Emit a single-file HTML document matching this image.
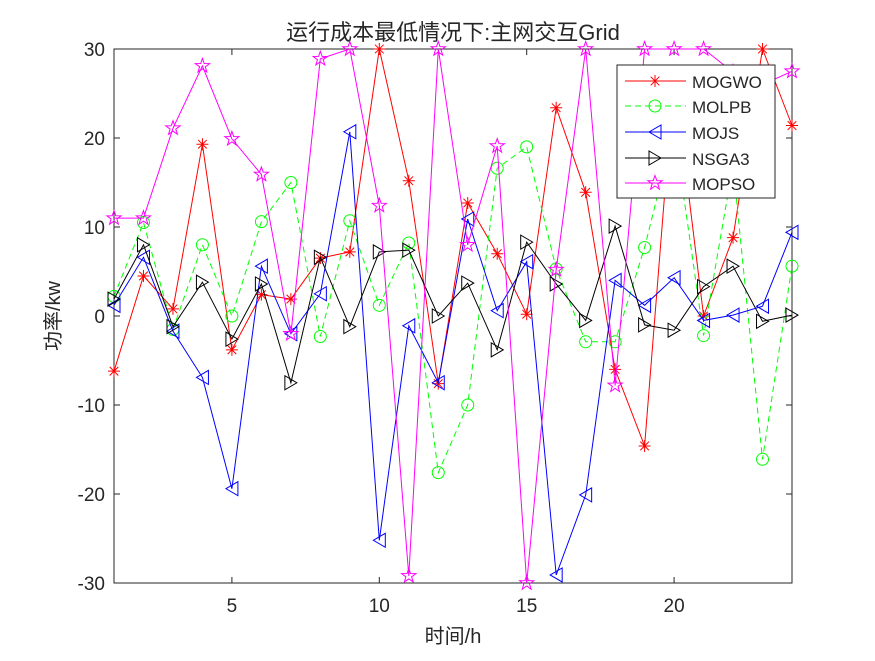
<!DOCTYPE html>
<html><head><meta charset="utf-8"><style>
body{margin:0;background:#fff;}
svg text{font-family:"Liberation Sans","Noto Sans CJK SC",sans-serif;fill:#262626;}
</style></head><body>
<svg id="s" width="875" height="656" viewBox="0 0 875 656" xmlns="http://www.w3.org/2000/svg">
<rect width="875" height="656" fill="#fff"/>
<rect x="114" y="49" width="678" height="534" fill="#fff" stroke="#262626" stroke-width="1"/>
<g stroke="#262626" stroke-width="1" id="ticks"></g>
<g font-size="19" text-anchor="middle">
<text x="231.9" y="612">5</text><text x="379.3" y="612">10</text><text x="526.7" y="612">15</text><text x="674.1" y="612">20</text>
</g>
<g font-size="19" text-anchor="end">
<text x="105" y="56">30</text><text x="105" y="145">20</text><text x="105" y="234">10</text><text x="105" y="323">0</text>
<text x="105" y="412">-10</text><text x="105" y="501">-20</text><text x="105" y="590">-30</text>
</g>
<text x="453" y="40" font-size="22" text-anchor="middle">运行成本最低情况下:主网交互Grid</text>
<text x="453" y="643" font-size="20" text-anchor="middle">时间/h</text>
<text transform="translate(60,316) rotate(-90)" font-size="20" text-anchor="middle">功率/kw</text>
<g id="series"></g>
<g id="legend">
<rect x="617" y="65" width="158" height="133" fill="#fff" stroke="#262626" stroke-width="1"/>
<g font-size="17">
<text x="692" y="88" fill="#000">MOGWO</text>
<text x="692" y="113" fill="#000">MOLPB</text>
<text x="692" y="139" fill="#000">MOJS</text>
<text x="692" y="165" fill="#000">NSGA3</text>
<text x="692" y="190" fill="#000">MOPSO</text>
</g>
</g>
</svg>
<script>
var X=function(i){return 114+(i-1)*678/23;},Y=function(v){return 316-v*8.9;};
var S=[
{c:"#ff0000",m:"ast",d:[-6.2,4.5,0.8,19.3,-3.8,2.4,1.9,6.5,7.2,30,15.2,-7.6,12.7,7,0.2,23.4,13.9,-6,-14.6,27,0,8.8,30,21.4]},
{c:"#00ff00",m:"o",dash:"6,4",d:[2.2,10.5,-1.5,8,0,10.6,15,-2.3,10.7,1.2,8.2,-17.6,-10,16.6,19,5.3,-2.9,-2.9,7.7,21,-2.2,17,-16.1,5.6]},
{c:"#0000ff",m:"<",d:[1.2,6.6,-1.7,-6.9,-19.4,5.6,-2,2.5,20.7,-25.2,-1.1,-7.5,10.9,0.6,6.1,-29.1,-20.1,4,1.2,4.3,-0.5,0.1,1.1,9.4]},
{c:"#000000",m:">",d:[1.9,8,-1.2,3.8,-2.6,3.6,-7.5,6.6,-1.2,7.2,7.4,0,3.7,-3.8,8.3,3.6,-0.5,10.1,-1,-1.6,3.3,5.6,-0.6,0.1]},
{c:"#ff00ff",m:"p",d:[11,11,21.1,28.1,19.9,15.9,-2,28.9,30,12.4,-29.2,30,8,19.1,-30,5.2,30,-7.8,30,30,30,27.4,26,27.5]}];
function mk(t,x,y,c){
 if(t=="ast"){var r=6,q=4.3;return '<path d="M'+(x-r)+' '+y+'H'+(x+r)+'M'+x+' '+(y-r)+'V'+(y+r)+'M'+(x-q)+' '+(y-q)+'L'+(x+q)+' '+(y+q)+'M'+(x-q)+' '+(y+q)+'L'+(x+q)+' '+(y-q)+'" stroke="'+c+'" fill="none"/>';}
 if(t=="o")return '<circle cx="'+x+'" cy="'+y+'" r="6" stroke="'+c+'" fill="none"/>';
 if(t=="<")return '<path d="M'+(x-6)+' '+y+'L'+(x+6)+' '+(y-7)+'L'+(x+6)+' '+(y+7)+'Z" stroke="'+c+'" fill="none"/>';
 if(t==">")return '<path d="M'+(x+6)+' '+y+'L'+(x-6)+' '+(y-7)+'L'+(x-6)+' '+(y+7)+'Z" stroke="'+c+'" fill="none"/>';
 var p=[];for(var k=0;k<10;k++){var rr=k%2?3:7.5,a=-Math.PI/2+k*Math.PI/5;p.push((x+rr*Math.cos(a)).toFixed(1)+','+(y+rr*Math.sin(a)).toFixed(1));}
 return '<polygon points="'+p.join(' ')+'" stroke="'+c+'" fill="none"/>';
}
var h='';
S.forEach(function(s){var pts=s.d.map(function(v,i){return X(i+1).toFixed(1)+','+Y(v).toFixed(1);});
 h+='<polyline points="'+pts.join(' ')+'" fill="none" stroke="'+s.c+'" stroke-width="1"'+(s.dash?' stroke-dasharray="'+s.dash+'"':'')+'/>';
 s.d.forEach(function(v,i){h+=mk(s.m,X(i+1),Y(v),s.c);});});
document.getElementById('series').innerHTML=h;
var t='';[5,10,15,20].forEach(function(i){var x=X(i);t+='<path d="M'+x+' 583V577M'+x+' 49V55"/>';});
[30,20,10,0,-10,-20,-30].forEach(function(v){var y=Y(v);t+='<path d="M114 '+y+'H120M792 '+y+'H786"/>';});
document.getElementById('ticks').innerHTML=t;
var L='',ly=[81,106,132,158,183];
S.forEach(function(s,i){L+='<line x1="625" x2="686" y1="'+ly[i]+'" y2="'+ly[i]+'" stroke="'+s.c+'"'+(s.dash?' stroke-dasharray="'+s.dash+'"':'')+'/>'+mk(s.m,655,ly[i],s.c);});
document.getElementById('legend').insertAdjacentHTML('beforeend',L);
</script>
</body></html>
